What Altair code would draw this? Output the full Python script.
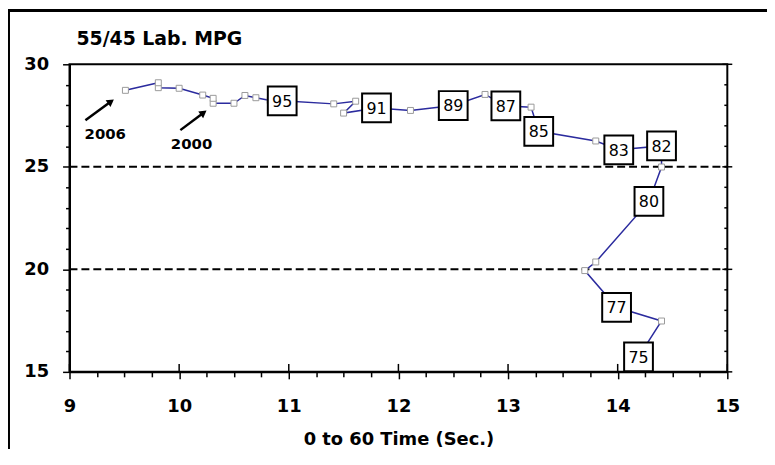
import altair as alt
import pandas as pd

# ---- data ----
years = list(range(1975, 2007))
accel = [14.19, 14.40, 13.99, 13.70, 13.80, 14.285, 14.40, 14.40, 14.01, 13.80,
         13.28, 13.21, 12.98, 12.79, 12.50, 12.11, 11.80, 11.50, 11.61, 11.41,
         10.94, 10.83, 10.70, 10.60, 10.50, 10.31, 10.31, 10.215, 10.00, 9.81,
         9.81, 9.51]
mpg = [15.73, 17.48, 18.15, 19.94, 20.36, 23.31, 24.99, 26.02, 25.83, 26.26,
       26.73, 27.91, 27.97, 28.53, 27.99, 27.75, 27.87, 27.62, 28.20, 28.07,
       28.22, 28.23, 28.37, 28.48, 28.10, 28.10, 28.34, 28.50, 28.83, 28.86,
       29.10, 28.73]
labeled_years = [1975, 1977, 1980, 1982, 1983, 1985, 1987, 1989, 1991, 1995]

ref_levels = [20, 25]

ann_text = ["2006", "2000"]
ann_text_x = [9.326, 10.113]
ann_text_y = [26.62, 26.09]
arrow_tail_x = [9.145, 10.011]
arrow_tail_y = [27.27, 26.79]
arrow_head_x = [9.378, 10.223]
arrow_head_y = [28.18, 27.64]

x_ticks = [9 + 0.25 * i for i in range(25)]
x_major = [9, 10, 11, 12, 13, 14, 15]
y_ticks = list(range(15, 31))
y_major = [15, 20, 25, 30]
y_minor = [v for v in y_ticks if v % 5 != 0]

chart_title = "55/45 Lab. MPG"
x_title = "0 to 60 Time (Sec.)"

W, H = 663, 310
FONT = "DejaVu Sans"

df = pd.DataFrame({
    "year": years, "x": accel, "y": mpg,
    "label": [str(yr)[2:] if yr in labeled_years else "" for yr in years],
})

xs = alt.Scale(domain=[9, 15], nice=False, zero=False)
ys = alt.Scale(domain=[15, 30], nice=False, zero=False)

x_axis = alt.Axis(
    values=x_ticks,
    tickSize={"condition": {"test": "datum.value % 1 === 0", "value": 7}, "value": 5},
    labelExpr="datum.value % 1 === 0 ? format(datum.value, 'd') : ''",
    labelFont=FONT, labelFontWeight="bold", labelFontSize=18, labelColor="black",
    labelPadding=19, labelFlush=False, labelOverlap=False,
    domainColor="black", domainWidth=2, tickColor="black", tickWidth=1.5,
    grid=False, title=x_title, titleFont=FONT, titleFontSize=18,
    titleFontWeight="bold", titleColor="black", titlePadding=15,
)
y_axis = alt.Axis(
    values=y_ticks,
    tickSize={"condition": {"test": "datum.value % 5 === 0", "value": 7}, "value": 4},
    labelExpr="datum.value % 5 === 0 ? format(datum.value, 'd') : ''",
    labelFont=FONT, labelFontWeight="bold", labelFontSize=18, labelColor="black",
    labelPadding=14, labelFlush=False, labelOverlap=False,
    domainColor="black", domainWidth=2, tickColor="black", tickWidth=1.5,
    grid=False, title=None,
)


def X(field="x"):
    return alt.X(f"{field}:Q", scale=xs, axis=x_axis, title=x_title)


def Y(field="y"):
    return alt.Y(f"{field}:Q", scale=ys, axis=y_axis, title=None)


one = pd.DataFrame({"a": [0]})

frame = alt.Chart(one).mark_rect(filled=False, stroke="black", strokeWidth=3).encode(
    x=alt.value(-61.5), x2=alt.value(W + 80), y=alt.value(-54.2), y2=alt.value(H + 150)
)

dashes = alt.Chart(pd.DataFrame({"y": ref_levels})).mark_rule(
    color="black", strokeWidth=2, strokeDash=[8, 4]
).encode(y=Y(), x=alt.value(0), x2=alt.value(W))

line = alt.Chart(df).mark_line(color="#2b2b9e", strokeWidth=1.5).encode(
    x=X(), y=Y(), order="year:Q"
)

markers = alt.Chart(df).transform_filter("datum.label == ''").mark_square(
    size=36, fill="white", stroke="#9a9a9a", strokeWidth=1, opacity=1
).encode(x=X(), y=Y())

boxes = alt.Chart(df).transform_filter("datum.label != ''").mark_square(
    size=841, fill="white", stroke="black", strokeWidth=2, opacity=1
).encode(x=X(), y=Y())

box_text = alt.Chart(df).transform_filter("datum.label != ''").mark_text(
    font=FONT, fontSize=16, color="black", align="center", baseline="middle", dy=1
).encode(x=X(), y=Y(), text="label:N")

ann = pd.DataFrame({
    "t": ann_text, "tx": ann_text_x, "ty": ann_text_y,
    "x": arrow_tail_x, "y": arrow_tail_y, "hx": arrow_head_x, "hy": arrow_head_y,
})
arrows = alt.Chart(ann).mark_rule(color="black", strokeWidth=2.5).encode(
    x=X(), y=Y(), x2="hx:Q", y2="hy:Q"
)
heads = alt.Chart(ann).mark_point(
    shape="triangle-up", size=70, filled=True, color="black", opacity=1, angle=54
).encode(x=X("hx"), y=Y("hy"))
ann_labels = alt.Chart(ann).mark_text(
    font=FONT, fontSize=15, fontWeight="bold", color="black", align="center", baseline="middle"
).encode(x=X("tx"), y=Y("ty"), text="t:N")

# extra axis tick pieces (inward halves of bottom major ticks, right-side ticks)
bottom_in = alt.Chart(pd.DataFrame({"x": x_major})).mark_rule(color="black", strokeWidth=1.5).encode(
    x=X(), y=alt.value(H), y2=alt.value(H - 8)
)
right_minor = alt.Chart(pd.DataFrame({"y": y_minor})).mark_rule(color="black", strokeWidth=1.5).encode(
    y=Y(), x=alt.value(W - 3), x2=alt.value(W)
)
right_major = alt.Chart(pd.DataFrame({"y": y_major})).mark_rule(color="black", strokeWidth=1.5).encode(
    y=Y(), x=alt.value(W - 5), x2=alt.value(W + 5)
)

title_txt = alt.Chart(pd.DataFrame({"t": [chart_title]})).mark_text(
    font=FONT, fontSize=19, fontWeight="bold", color="black", align="left", baseline="alphabetic"
).encode(text="t:N", x=alt.value(7), y=alt.value(-19.5))

chart = alt.layer(
    frame, dashes, line, markers, boxes, box_text, arrows, heads, ann_labels,
    bottom_in, right_minor, right_major, title_txt
).properties(
    width=W, height=H,
    autosize=alt.AutoSizeParams(type="none"),
    padding={"left": 62, "top": 55, "right": 40, "bottom": 76},
    background="white",
).configure_view(stroke="black", strokeWidth=2)

chart.save("out.html", embed_options={"renderer": "svg", "actions": False})
